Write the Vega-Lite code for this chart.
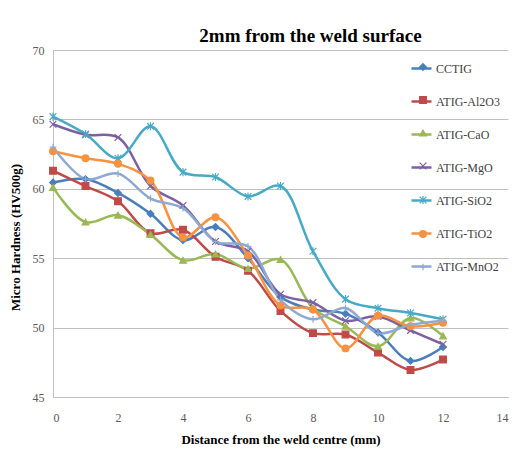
{
  "$schema": "https://vega.github.io/schema/vega-lite/v6.json",
  "width": 455,
  "height": 347,
  "autosize": {"type": "none"},
  "padding": {"left": 53, "top": 50, "right": 13, "bottom": 53},
  "background": "white",
  "config": {
    "view": {"stroke": null},
    "font": "'Liberation Serif', 'Times New Roman', serif",
    "axis": {"labelFont": "'Liberation Serif', 'Times New Roman', serif", "titleFont": "'Liberation Serif', 'Times New Roman', serif"},
    "legend": {"labelFont": "'Liberation Serif', 'Times New Roman', serif"}
  },
  "title": {"text": "2mm from the weld surface", "font": "'Liberation Serif', 'Times New Roman', serif", "fontSize": 19, "fontWeight": "bold", "color": "black", "anchor": "middle", "dx": 30, "offset": -2},
  "data": {"values": [
    {"x": 0, "series": "CCTIG", "v": 60.45}, {"x": 1, "series": "CCTIG", "v": 60.7}, {"x": 2, "series": "CCTIG", "v": 59.7}, {"x": 3, "series": "CCTIG", "v": 58.2}, {"x": 4, "series": "CCTIG", "v": 56.3}, {"x": 5, "series": "CCTIG", "v": 57.25}, {"x": 6, "series": "CCTIG", "v": 55.0}, {"x": 7, "series": "CCTIG", "v": 52.2}, {"x": 8, "series": "CCTIG", "v": 51.3}, {"x": 9, "series": "CCTIG", "v": 51.0}, {"x": 10, "series": "CCTIG", "v": 49.65}, {"x": 11, "series": "CCTIG", "v": 47.6}, {"x": 12, "series": "CCTIG", "v": 48.6},
    {"x": 0, "series": "ATIG-Al2O3", "v": 61.3}, {"x": 1, "series": "ATIG-Al2O3", "v": 60.2}, {"x": 2, "series": "ATIG-Al2O3", "v": 59.1}, {"x": 3, "series": "ATIG-Al2O3", "v": 56.8}, {"x": 4, "series": "ATIG-Al2O3", "v": 57.05}, {"x": 5, "series": "ATIG-Al2O3", "v": 55.1}, {"x": 6, "series": "ATIG-Al2O3", "v": 54.1}, {"x": 7, "series": "ATIG-Al2O3", "v": 51.2}, {"x": 8, "series": "ATIG-Al2O3", "v": 49.6}, {"x": 9, "series": "ATIG-Al2O3", "v": 49.5}, {"x": 10, "series": "ATIG-Al2O3", "v": 48.2}, {"x": 11, "series": "ATIG-Al2O3", "v": 46.95}, {"x": 12, "series": "ATIG-Al2O3", "v": 47.7},
    {"x": 0, "series": "ATIG-CaO", "v": 60.1}, {"x": 1, "series": "ATIG-CaO", "v": 57.6}, {"x": 2, "series": "ATIG-CaO", "v": 58.1}, {"x": 3, "series": "ATIG-CaO", "v": 56.7}, {"x": 4, "series": "ATIG-CaO", "v": 54.85}, {"x": 5, "series": "ATIG-CaO", "v": 55.3}, {"x": 6, "series": "ATIG-CaO", "v": 54.25}, {"x": 7, "series": "ATIG-CaO", "v": 54.9}, {"x": 8, "series": "ATIG-CaO", "v": 51.4}, {"x": 9, "series": "ATIG-CaO", "v": 50.1}, {"x": 10, "series": "ATIG-CaO", "v": 48.65}, {"x": 11, "series": "ATIG-CaO", "v": 50.7}, {"x": 12, "series": "ATIG-CaO", "v": 49.4},
    {"x": 0, "series": "ATIG-MgO", "v": 64.65}, {"x": 1, "series": "ATIG-MgO", "v": 63.9}, {"x": 2, "series": "ATIG-MgO", "v": 63.7}, {"x": 3, "series": "ATIG-MgO", "v": 60.2}, {"x": 4, "series": "ATIG-MgO", "v": 58.8}, {"x": 5, "series": "ATIG-MgO", "v": 56.2}, {"x": 6, "series": "ATIG-MgO", "v": 55.5}, {"x": 7, "series": "ATIG-MgO", "v": 52.4}, {"x": 8, "series": "ATIG-MgO", "v": 51.8}, {"x": 9, "series": "ATIG-MgO", "v": 50.5}, {"x": 10, "series": "ATIG-MgO", "v": 50.8}, {"x": 11, "series": "ATIG-MgO", "v": 49.8}, {"x": 12, "series": "ATIG-MgO", "v": 48.8},
    {"x": 0, "series": "ATIG-SiO2", "v": 65.2}, {"x": 1, "series": "ATIG-SiO2", "v": 63.95}, {"x": 2, "series": "ATIG-SiO2", "v": 62.2}, {"x": 3, "series": "ATIG-SiO2", "v": 64.5}, {"x": 4, "series": "ATIG-SiO2", "v": 61.2}, {"x": 5, "series": "ATIG-SiO2", "v": 60.85}, {"x": 6, "series": "ATIG-SiO2", "v": 59.45}, {"x": 7, "series": "ATIG-SiO2", "v": 60.2}, {"x": 8, "series": "ATIG-SiO2", "v": 55.5}, {"x": 9, "series": "ATIG-SiO2", "v": 52.05}, {"x": 10, "series": "ATIG-SiO2", "v": 51.4}, {"x": 11, "series": "ATIG-SiO2", "v": 51.05}, {"x": 12, "series": "ATIG-SiO2", "v": 50.6},
    {"x": 0, "series": "ATIG-TiO2", "v": 62.7}, {"x": 1, "series": "ATIG-TiO2", "v": 62.2}, {"x": 2, "series": "ATIG-TiO2", "v": 61.8}, {"x": 3, "series": "ATIG-TiO2", "v": 60.6}, {"x": 4, "series": "ATIG-TiO2", "v": 56.5}, {"x": 5, "series": "ATIG-TiO2", "v": 57.95}, {"x": 6, "series": "ATIG-TiO2", "v": 55.2}, {"x": 7, "series": "ATIG-TiO2", "v": 51.6}, {"x": 8, "series": "ATIG-TiO2", "v": 51.3}, {"x": 9, "series": "ATIG-TiO2", "v": 48.5}, {"x": 10, "series": "ATIG-TiO2", "v": 50.85}, {"x": 11, "series": "ATIG-TiO2", "v": 50.1}, {"x": 12, "series": "ATIG-TiO2", "v": 50.35},
    {"x": 0, "series": "ATIG-MnO2", "v": 63.0}, {"x": 1, "series": "ATIG-MnO2", "v": 60.7}, {"x": 2, "series": "ATIG-MnO2", "v": 61.1}, {"x": 3, "series": "ATIG-MnO2", "v": 59.3}, {"x": 4, "series": "ATIG-MnO2", "v": 58.6}, {"x": 5, "series": "ATIG-MnO2", "v": 56.2}, {"x": 6, "series": "ATIG-MnO2", "v": 55.85}, {"x": 7, "series": "ATIG-MnO2", "v": 52.0}, {"x": 8, "series": "ATIG-MnO2", "v": 50.6}, {"x": 9, "series": "ATIG-MnO2", "v": 51.4}, {"x": 10, "series": "ATIG-MnO2", "v": 49.6}, {"x": 11, "series": "ATIG-MnO2", "v": 50.2}, {"x": 12, "series": "ATIG-MnO2", "v": 50.5}
  ]},
  "encoding": {
    "x": {"field": "x", "type": "quantitative", "scale": {"domain": [0, 14], "nice": false},
      "axis": {"values": [0, 2, 4, 6, 8, 10, 12, 14], "title": "Distance from the weld centre (mm)", "grid": false, "ticks": false, "domainColor": "#BFBFBF", "labelFont": "'Liberation Serif', 'Times New Roman', serif", "labelFontSize": 12, "labelColor": "#595959", "labelPadding": 15, "titleFont": "'Liberation Serif', 'Times New Roman', serif", "titleFontSize": 13, "titleFontWeight": "bold", "titleColor": "black", "titlePadding": 10}},
    "y": {"field": "v", "type": "quantitative", "scale": {"domain": [45, 70], "nice": false, "zero": false},
      "axis": {"values": [45, 50, 55, 60, 65, 70], "title": "Micro Hardness (HV500g)", "grid": true, "gridColor": "#BFBFBF", "ticks": false, "domainColor": "#BFBFBF", "labelFont": "'Liberation Serif', 'Times New Roman', serif", "labelFontSize": 12, "labelColor": "#595959", "labelPadding": 9, "titleFont": "'Liberation Serif', 'Times New Roman', serif", "titleFontSize": 13, "titleFontWeight": "bold", "titleColor": "black", "titlePadding": 10, "titleY": 187}}
  },
  "layer": [
    {"mark": {"type": "line", "interpolate": "catmull-rom", "strokeWidth": 2.5},
     "encoding": {
       "color": {"field": "series", "type": "nominal",
         "sort": ["CCTIG", "ATIG-Al2O3", "ATIG-CaO", "ATIG-MgO", "ATIG-SiO2", "ATIG-TiO2", "ATIG-MnO2"],
         "scale": {"range": ["#4A7EBB", "#BE4B48", "#98B954", "#7D60A0", "#46AAC5", "#F69240", "#8EA9D3"]},
         "legend": {"orient": "none", "legendX": 357, "legendY": 7, "title": null, "symbolType": "stroke", "symbolSize": 400, "symbolStrokeWidth": 2.5, "labelFont": "'Liberation Serif', 'Times New Roman', serif", "labelFontSize": 12, "labelColor": "#404040", "rowPadding": 15, "labelOffset": 3}}
     }},
    {"mark": {"type": "point", "filled": true, "size": 45, "strokeWidth": 1.2, "opacity": 1},
     "encoding": {
       "fill": {"field": "series", "type": "nominal",
         "scale": {"domain": ["CCTIG", "ATIG-Al2O3", "ATIG-CaO", "ATIG-MgO", "ATIG-SiO2", "ATIG-TiO2", "ATIG-MnO2"], "range": ["#4A7EBB", "#BE4B48", "#98B954", "#7D60A0", "#46AAC5", "#F69240", "#8EA9D3"]},
         "legend": {"orient": "none", "legendX": 364, "legendY": 11, "title": null, "symbolSize": 45, "symbolStrokeWidth": 1.2, "labelFontSize": 12, "labelExpr": "''", "rowPadding": 21}},
       "stroke": {"field": "series", "type": "nominal",
         "scale": {"domain": ["CCTIG", "ATIG-Al2O3", "ATIG-CaO", "ATIG-MgO", "ATIG-SiO2", "ATIG-TiO2", "ATIG-MnO2"], "range": ["#4A7EBB", "#BE4B48", "#98B954", "#7D60A0", "#46AAC5", "#F69240", "#8EA9D3"]},
         "legend": {"orient": "none", "legendX": 364, "legendY": 11, "title": null, "symbolSize": 45, "symbolStrokeWidth": 1.2, "labelFontSize": 12, "labelExpr": "''", "rowPadding": 21}},
       "shape": {"field": "series", "type": "nominal",
         "scale": {"domain": ["CCTIG", "ATIG-Al2O3", "ATIG-CaO", "ATIG-MgO", "ATIG-SiO2", "ATIG-TiO2", "ATIG-MnO2"], "range": ["diamond", "square", "triangle-up", "M-1,-1L1,1M-1,1L1,-1", "M-1,-1L1,1M-1,1L1,-1M0,-1.2L0,1.2", "circle", "M-1,0L1,0M0,-1L0,1"]},
         "legend": {"orient": "none", "legendX": 364, "legendY": 11, "title": null, "symbolSize": 45, "symbolStrokeWidth": 1.2, "labelFontSize": 12, "labelExpr": "''", "rowPadding": 21}}
     }}
  ]
}
